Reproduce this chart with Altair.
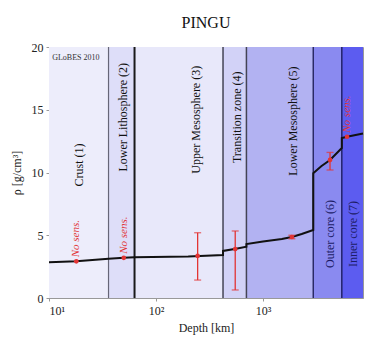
import altair as alt
import pandas as pd

# Earth layers
layer_names = ["Crust (1)", "Lower Lithosphere (2)", "Upper Mesosphere (3)",
               "Transition zone (4)", "Lower Mesosphere (5)", "Outer core (6)", "Inner core (7)"]
layer_start = [10, 36, 63, 423, 700, 2950, 5450]
layer_end = [36, 63, 423, 700, 2950, 5450, 8600]
layer_fill = ["#ededfb", "#dedef9", "#e8e8fa", "#d2d2f7", "#b2b2f2", "#8a8af0", "#5c5cf0"]
label_depth = [19, 49, 236, 570, 1900, 4230, 6900]
label_rho = [10.6, 14.4, 14.2, 14.4, 14.1, 5.1, 5.1]
label_color = ["#111111", "#111111", "#111111", "#111111", "#111111", "#1c1c66", "#1c1c66"]

boundary_depth = [36, 63, 423, 700, 2950, 5450]
boundary_color = ["#666677", "#1a1a1a", "#444455", "#444455", "#2a2a66", "#22226a"]
boundary_width = [1.2, 2.0, 1.5, 1.5, 1.5, 1.5]

# density profile
prof_depth = [10, 18, 36, 50, 63, 200, 423, 423, 560, 700, 700, 1000, 1500, 1860,
              2300, 2950, 2950, 3500, 4230, 5450, 5450, 6100, 8600]
prof_rho = [2.85, 2.92, 3.12, 3.2, 3.24, 3.3, 3.42, 3.75, 3.92, 4.08, 4.3, 4.5, 4.7,
            4.86, 5.1, 5.42, 9.95, 10.5, 11.0, 11.95, 12.75, 12.85, 13.1]

# measured points with error bars
meas_depth = [245, 550, 1860, 4230]
meas_rho = [3.35, 3.9, 4.86, 11.0]
meas_lo = [1.43, 0.64, 4.72, 10.2]
meas_hi = [5.2, 5.34, 5.0, 11.6]

# no sensitivity points
nosens_depth = [18, 50, 6100]
nosens_rho = [2.92, 3.2, 12.85]

SERIF = "Liberation Serif"
RED = "#e23434"

layers_df = pd.DataFrame({"name": layer_names, "start": layer_start, "end": layer_end,
                          "fill": layer_fill, "ld": label_depth, "lr": label_rho,
                          "lc": label_color, "ylo": [0] * 7, "yhi": [20] * 7})
bound_df = pd.DataFrame({"d": boundary_depth, "c": boundary_color, "w": boundary_width})
prof_df = pd.DataFrame({"d": prof_depth, "rho": prof_rho, "i": list(range(len(prof_depth)))})
meas_df = pd.DataFrame({"d": meas_depth, "rho": meas_rho, "lo": meas_lo, "hi": meas_hi})
ns_df = pd.DataFrame({"d": nosens_depth, "rho": nosens_rho, "t": ["No sens."] * 3})
globes_df = pd.DataFrame({"d": [10.7], "rho": [19.1], "t": ["GLoBES 2010"]})

xs = alt.Scale(type="log", domain=[10, 8600], nice=False)
ys = alt.Scale(domain=[0, 20], nice=False)

xax = alt.Axis(values=[10, 100, 1000],
               labelExpr="datum.value == 10 ? '10¹' : datum.value == 100 ? '10²' : '10³'",
               title="Depth [km]", grid=False)
yax = alt.Axis(values=[0, 5, 10, 15, 20], title="ρ [g/cm³]", grid=False)

base = alt.Chart(layers_df)
rects = base.mark_rect().encode(
    x=alt.X("start:Q", scale=xs, axis=xax),
    x2="end:Q",
    y=alt.Y("ylo:Q", scale=ys, axis=yax),
    y2="yhi:Q",
    color=alt.Color("fill:N", scale=None),
)
labels = base.mark_text(angle=270, font=SERIF, fontSize=12, align="center", baseline="middle").encode(
    x=alt.X("ld:Q", scale=xs), y=alt.Y("lr:Q", scale=ys), text="name:N",
    color=alt.Color("lc:N", scale=None))

rules = alt.Chart(bound_df).mark_rule().encode(
    x=alt.X("d:Q", scale=xs), color=alt.Color("c:N", scale=None),
    strokeWidth=alt.StrokeWidth("w:Q", scale=None))

line = alt.Chart(prof_df).mark_line(color="#111111", strokeWidth=2).encode(
    x=alt.X("d:Q", scale=xs), y=alt.Y("rho:Q", scale=ys), order="i:Q")

err = alt.Chart(meas_df).mark_rule(color=RED, strokeWidth=1.3).encode(
    x=alt.X("d:Q", scale=xs), y=alt.Y("lo:Q", scale=ys), y2="hi:Q")
cap_lo = alt.Chart(meas_df).mark_tick(color=RED, orient="horizontal", size=7, thickness=1.3).encode(
    x=alt.X("d:Q", scale=xs), y=alt.Y("lo:Q", scale=ys))
cap_hi = alt.Chart(meas_df).mark_tick(color=RED, orient="horizontal", size=7, thickness=1.3).encode(
    x=alt.X("d:Q", scale=xs), y=alt.Y("hi:Q", scale=ys))
pts = alt.Chart(meas_df).mark_point(color=RED, filled=True, size=22, opacity=1).encode(
    x=alt.X("d:Q", scale=xs), y=alt.Y("rho:Q", scale=ys))

ns_pts = alt.Chart(ns_df).mark_point(color=RED, filled=True, size=22, opacity=1).encode(
    x=alt.X("d:Q", scale=xs), y=alt.Y("rho:Q", scale=ys))
ns_txt = alt.Chart(ns_df).mark_text(angle=270, align="left", baseline="middle", dx=4,
                                    font=SERIF, fontSize=11, fontStyle="italic", color=RED).encode(
    x=alt.X("d:Q", scale=xs), y=alt.Y("rho:Q", scale=ys), text="t:N")

globes = alt.Chart(globes_df).mark_text(align="left", baseline="middle", font=SERIF,
                                        fontSize=8, color="#333333").encode(
    x=alt.X("d:Q", scale=xs), y=alt.Y("rho:Q", scale=ys), text="t:N")

chart = alt.layer(rects, rules, labels, line, err, cap_lo, cap_hi, pts, ns_pts, ns_txt, globes).properties(
    width=314, height=251,
    title=alt.TitleParams("PINGU", font=SERIF, fontSize=16, fontWeight="normal", color="#111111", offset=10),
    autosize=alt.AutoSizeParams(type="none"),
    padding={"left": 41, "top": 39, "right": 11, "bottom": 41},
    background="white",
).configure_view(stroke="#999999", strokeWidth=1).configure_axis(
    labelFont=SERIF, titleFont=SERIF, labelFontSize=12, titleFontSize=12,
    titleFontWeight="normal", labelColor="#222222", titleColor="#222222",
    domainColor="#999999", tickColor="#999999", tickSize=3,
).configure_axisY(titlePadding=8, labelPadding=3).configure_axisX(titlePadding=6, labelPadding=4)

chart.save("out.html", embed_options={"renderer": "svg", "actions": False})
